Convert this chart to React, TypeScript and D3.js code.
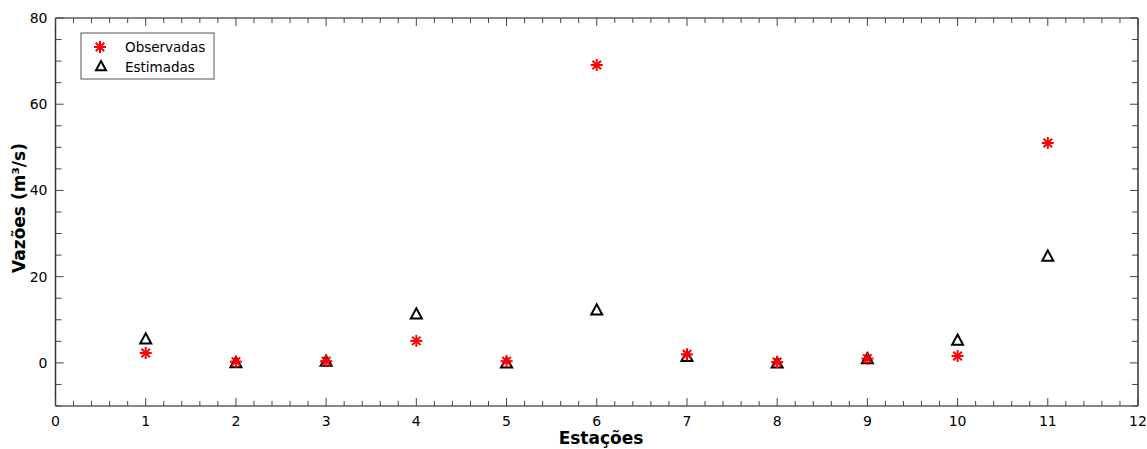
import React from "react";
import * as d3 from "d3";

const stations = [1, 2, 3, 4, 5, 6, 7, 8, 9, 10, 11];
const observed = [2.3, 0.3, 0.4, 5.1, 0.4, 69.1, 2.0, 0.2, 1.0, 1.6, 51.0];
const estimated = [5.6, 0.1, 0.4, 11.4, 0.0, 12.3, 1.5, 0.0, 1.0, 5.3, 24.8];
const xTicks = [0, 1, 2, 3, 4, 5, 6, 7, 8, 9, 10, 11, 12];
const yTicks = [0, 20, 40, 60, 80];

const W = 1147;
const H = 449;
const m = { left: 55.5, right: 1138, top: 18, bottom: 406 };
const font = "'DejaVu Sans', Verdana, sans-serif";

function Asterisk({ x, y, r = 6 }: { x: number; y: number; r?: number }) {
  const arms = d3.range(4).map((i) => (i * Math.PI) / 4);
  return (
    <g stroke="#ff0000" strokeWidth={2}>
      {arms.map((a, i) => (
        <line
          key={i}
          x1={x - r * Math.cos(a)}
          y1={y - r * Math.sin(a)}
          x2={x + r * Math.cos(a)}
          y2={y + r * Math.sin(a)}
        />
      ))}
    </g>
  );
}

function Triangle({ x, y, s = 5.5 }: { x: number; y: number; s?: number }) {
  const p = `M${x},${y - s} L${x + s},${y + s * 0.85} L${x - s},${y + s * 0.85} Z`;
  return <path d={p} fill="none" stroke="#000" strokeWidth={2} strokeLinejoin="miter" />;
}

export default function App() {
  const x = d3.scaleLinear().domain([0, 12]).range([m.left, m.right]);
  const y = d3.scaleLinear().domain([-10, 80]).range([m.bottom, m.top]);

  const xMinor = d3.range(0, 12.001, 0.2).filter((v) => Math.abs(v - Math.round(v)) > 1e-6);
  const yMinor = d3.range(-10, 80.001, 5).filter((v) => v % 20 !== 0);

  return (
    <svg
      width={W}
      height={H}
      style={{ position: "absolute", left: 0, top: 0, background: "#fff" }}
      fontFamily={font}
    >
      {/* frame */}
      <line x1={m.left} x2={m.right} y1={m.top} y2={m.top} stroke="#888" strokeWidth={2} />
      <line x1={m.left} x2={m.right} y1={m.bottom} y2={m.bottom} stroke="#888" strokeWidth={2} />
      <line x1={m.left} x2={m.left} y1={m.top} y2={m.bottom} stroke="#333" strokeWidth={1.5} />
      <line x1={m.right} x2={m.right} y1={m.top} y2={m.bottom} stroke="#333" strokeWidth={1.5} />

      {/* x ticks */}
      {xTicks.map((t) => (
        <g key={"xt" + t}>
          <line x1={x(t)} x2={x(t)} y1={m.bottom} y2={m.bottom - 8} stroke="#444" />
          <line x1={x(t)} x2={x(t)} y1={m.top} y2={m.top + 8} stroke="#444" />
          <text x={x(t)} y={m.bottom + 20} textAnchor="middle" fontSize={14} fill="#000">
            {t}
          </text>
        </g>
      ))}
      {xMinor.map((t, i) => (
        <g key={"xm" + i}>
          <line x1={x(t)} x2={x(t)} y1={m.bottom} y2={m.bottom - 5} stroke="#444" />
          <line x1={x(t)} x2={x(t)} y1={m.top} y2={m.top + 5} stroke="#444" />
        </g>
      ))}

      {/* y ticks */}
      {yTicks.map((t) => (
        <g key={"yt" + t}>
          <line x1={m.left} x2={m.left + 8} y1={y(t)} y2={y(t)} stroke="#444" />
          <line x1={m.right} x2={m.right - 8} y1={y(t)} y2={y(t)} stroke="#444" />
          <text x={m.left - 8} y={y(t) + 5} textAnchor="end" fontSize={14} fill="#000">
            {t}
          </text>
        </g>
      ))}
      {yMinor.map((t, i) => (
        <g key={"ym" + i}>
          <line x1={m.left} x2={m.left + 6} y1={y(t)} y2={y(t)} stroke="#444" />
          <line x1={m.right} x2={m.right - 6} y1={y(t)} y2={y(t)} stroke="#444" />
        </g>
      ))}

      {/* axis titles */}
      <text x={601} y={444} textAnchor="middle" fontSize={17} fontWeight="bold">
        Estações
      </text>
      <text
        transform={`translate(25,208) rotate(-90)`}
        textAnchor="middle"
        fontSize={17}
        fontWeight="bold"
      >
        Vazões (m³/s)
      </text>

      {/* data */}
      {stations.map((s, i) => (
        <Triangle key={"e" + s} x={x(s)} y={y(estimated[i])} />
      ))}
      {stations.map((s, i) => (
        <Asterisk key={"o" + s} x={x(s)} y={y(observed[i])} />
      ))}

      {/* legend */}
      <rect x={81} y={33} width={133} height={46} fill="#fff" stroke="#555" strokeWidth={1} />
      <Asterisk x={100} y={47} />
      <text x={125} y={52} fontSize={13.5}>
        Observadas
      </text>
      <Triangle x={101} y={66} s={5} />
      <text x={125} y={72} fontSize={13.5}>
        Estimadas
      </text>
    </svg>
  );
}
